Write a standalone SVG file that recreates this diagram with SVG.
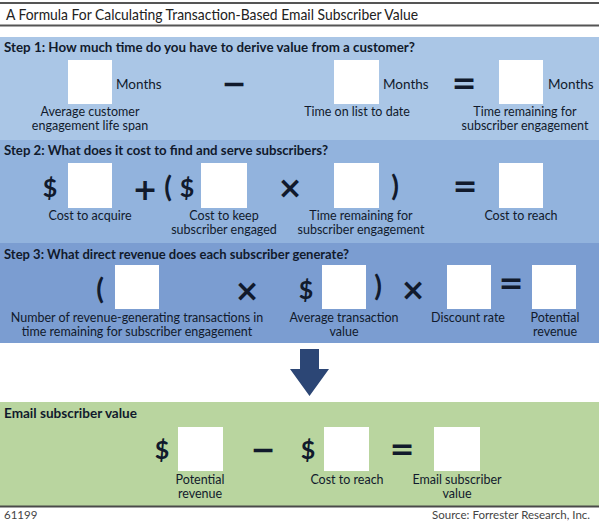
<svg xmlns="http://www.w3.org/2000/svg" width="599" height="523" viewBox="0 0 599 523">
<style>
  .bg1{fill:#aac6e6}
  .bg2{fill:#92b3dd}
  .bg3{fill:#7b9dd1}
  .bgg{fill:#b9d59f}
  .box{fill:#ffffff}
  text{font-family:Lato,"Liberation Sans",sans-serif;fill:#111a2c}
  .title{font-size:15px;fill:#222}
  .head{font-size:13.5px;font-weight:bold}
  .lbl{font-size:12.5px;text-anchor:middle}
  .mon{font-size:13.5px}
  .dol{font-size:25px;font-weight:bold;text-anchor:middle}
  .par{font-size:28px;font-weight:bold;text-anchor:middle}
  .op{font-family:"DejaVu Sans",sans-serif;font-size:30px;font-weight:bold;text-anchor:middle}
  .foot{font-size:11.5px;fill:#444}
  .rule{stroke:#555;stroke-width:2}
</style>
<rect x="0" y="0" width="599" height="523" fill="#ffffff"/>
<!-- title bar -->
<g id="title">
  <line class="rule" x1="0" y1="3" x2="599" y2="3"/>
  <line class="rule" x1="0" y1="25.5" x2="599" y2="25.5"/>
  <text class="title" x="6" y="19.5" textLength="412" lengthAdjust="spacingAndGlyphs">A Formula For Calculating Transaction-Based Email Subscriber Value</text>
</g>
<!-- Step 1 -->
<g id="step1">
  <rect class="bg1" x="0" y="37" width="599" height="103"/>
  <text class="head" x="4" y="51.5" textLength="411" lengthAdjust="spacingAndGlyphs">Step 1: How much time do you have to derive value from a customer?</text>
  <g id="s1-life">
    <rect class="box" x="68" y="60" width="44" height="44"/>
    <text class="mon" x="116" y="89">Months</text>
    <text class="lbl" x="90" y="116">Average customer</text>
    <text class="lbl" x="90" y="129.5">engagement life span</text>
  </g>
  <text class="op" x="234" y="94">−</text>
  <g id="s1-onlist">
    <rect class="box" x="334" y="60" width="45" height="44"/>
    <text class="mon" x="383" y="89">Months</text>
    <text class="lbl" x="357" y="116">Time on list to date</text>
  </g>
  <text class="op" x="464" y="93">=</text>
  <g id="s1-remaining">
    <rect class="box" x="499" y="60" width="44" height="44"/>
    <text class="mon" x="548" y="89">Months</text>
    <text class="lbl" x="525" y="116">Time remaining for</text>
    <text class="lbl" x="525" y="129.5">subscriber engagement</text>
  </g>
</g>
<!-- Step 2 -->
<g id="step2">
  <rect class="bg2" x="0" y="140" width="599" height="103"/>
  <text class="head" x="4" y="155" textLength="324" lengthAdjust="spacingAndGlyphs">Step 2: What does it cost to find and serve subscribers?</text>
  <g id="s2-acquire">
    <text class="dol" x="50" y="197">$</text>
    <rect class="box" x="68" y="163" width="44" height="45"/>
    <text class="lbl" x="90" y="220">Cost to acquire</text>
  </g>
  <text class="op" x="145" y="200">+</text>
  <text class="par" x="168" y="197">(</text>
  <g id="s2-keep">
    <text class="dol" x="187" y="197">$</text>
    <rect class="box" x="201" y="163" width="46" height="45"/>
    <text class="lbl" x="224" y="220">Cost to keep</text>
    <text class="lbl" x="224" y="233.5">subscriber engaged</text>
  </g>
  <text class="op" x="290" y="198">×</text>
  <g id="s2-remaining">
    <rect class="box" x="334" y="163" width="45" height="45"/>
    <text class="lbl" x="361" y="220">Time remaining for</text>
    <text class="lbl" x="361" y="233.5">subscriber engagement</text>
  </g>
  <text class="par" x="395" y="196">)</text>
  <text class="op" x="465" y="196">=</text>
  <g id="s2-reach">
    <rect class="box" x="499" y="163" width="44" height="45"/>
    <text class="lbl" x="521" y="220">Cost to reach</text>
  </g>
</g>
<!-- Step 3 -->
<g id="step3">
  <rect class="bg3" x="0" y="243" width="599" height="100"/>
  <text class="head" x="4" y="259" textLength="345" lengthAdjust="spacingAndGlyphs">Step 3: What direct revenue does each subscriber generate?</text>
  <text class="par" x="100" y="299">(</text>
  <g id="s3-transactions">
    <rect class="box" x="115" y="265" width="44" height="44"/>
    <text class="lbl" x="137" y="322">Number of revenue-generating transactions in</text>
    <text class="lbl" x="137" y="335.5">time remaining for subscriber engagement</text>
  </g>
  <text class="op" x="247" y="301">×</text>
  <g id="s3-avg">
    <text class="dol" x="306" y="299">$</text>
    <rect class="box" x="322" y="265" width="44" height="44"/>
    <text class="lbl" x="344" y="322">Average transaction</text>
    <text class="lbl" x="344" y="335.5">value</text>
  </g>
  <text class="par" x="378" y="296">)</text>
  <text class="op" x="413" y="300">×</text>
  <g id="s3-discount">
    <rect class="box" x="447" y="265" width="44" height="44"/>
    <text class="lbl" x="468" y="322">Discount rate</text>
  </g>
  <text class="op" x="511" y="293">=</text>
  <g id="s3-potential">
    <rect class="box" x="532" y="265" width="44" height="44"/>
    <text class="lbl" x="555" y="322">Potential</text>
    <text class="lbl" x="555" y="335.5">revenue</text>
  </g>
</g>
<!-- connector arrow -->
<g id="connectors">
  <polygon points="300,349 319,349 319,369 329,369 309.5,396 290,369 300,369" fill="#2c4675"/>
</g>
<!-- Email subscriber value -->
<g id="final">
  <rect class="bgg" x="0" y="402" width="599" height="104"/>
  <line x1="0" y1="506.5" x2="599" y2="506.5" stroke="#4a4a4a" stroke-width="2"/>
  <text class="head" x="4" y="418" textLength="133" lengthAdjust="spacingAndGlyphs">Email subscriber value</text>
  <g id="f-potential">
    <text class="dol" x="162" y="459">$</text>
    <rect class="box" x="178" y="427" width="45" height="44"/>
    <text class="lbl" x="200" y="484">Potential</text>
    <text class="lbl" x="200" y="497.5">revenue</text>
  </g>
  <text class="op" x="263" y="460">−</text>
  <g id="f-reach">
    <text class="dol" x="308" y="459">$</text>
    <rect class="box" x="324" y="427" width="45" height="44"/>
    <text class="lbl" x="347" y="484">Cost to reach</text>
  </g>
  <text class="op" x="402" y="459">=</text>
  <g id="f-value">
    <rect class="box" x="434" y="427" width="46" height="44"/>
    <text class="lbl" x="457" y="484">Email subscriber</text>
    <text class="lbl" x="457" y="497.5">value</text>
  </g>
</g>
<!-- footer -->
<g id="footer">
  <text class="foot" x="4" y="519">61199</text>
  <text class="foot" x="590" y="519" text-anchor="end">Source: Forrester Research, Inc.</text>
</g>
</svg>
